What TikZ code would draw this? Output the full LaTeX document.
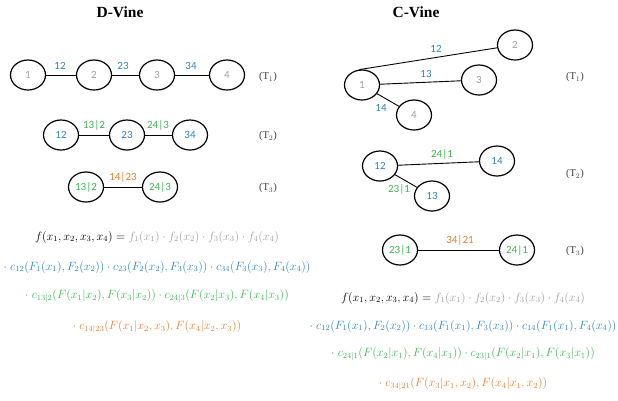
\documentclass[tikz,border=0pt]{standalone}
\usepackage{fontspec}
\setsansfont{Carlito}
\newfontfamily\serifT{Liberation Serif}
\usetikzlibrary{shapes.geometric}
\definecolor{vblue}{HTML}{2E86C8}
\definecolor{vgreen}{HTML}{3CB94F}
\definecolor{vorange}{HTML}{ED7D31}
\definecolor{vgray}{HTML}{A0A0A0}
\definecolor{tgray}{HTML}{404040}
\begin{document}
\begin{tikzpicture}[x=1pt,y=-1pt,
  vnode/.style={draw, ellipse, line width=1.2pt, minimum width=35pt, minimum height=30pt, inner sep=0pt, font=\sffamily\fontsize{11}{13}\selectfont},
  vedge/.style={line width=0.9pt},
  elabel/.style={font=\sffamily\fontsize{11}{13}\selectfont, inner sep=0pt},
  tlabel/.style={font=\serifT\fontsize{10.5}{12}\selectfont, text=tgray, inner sep=0pt},
  vtitle/.style={font=\serifT\bfseries\fontsize{15.5}{17}\selectfont, inner sep=0pt},
  formula/.style={inner sep=0pt, font=\fontsize{11.6}{13}\selectfont}]
\useasboundingbox (0,0) rectangle (618,400);

% ---------------- D-Vine ----------------
\node[vtitle] (dtitle) at (120,12) {D-Vine};
% T1
\node[vnode, text=vgray] (d1) at (28,75) {1};
\node[vnode, text=vgray] (d2) at (94,75) {2};
\node[vnode, text=vgray] (d3) at (157,75) {3};
\node[vnode, text=vgray] (d4) at (227,75) {4};
\draw[vedge] (d1) -- (d2);
\draw[vedge] (d2) -- (d3);
\draw[vedge] (d3) -- (d4);
\node[elabel, text=vblue] (dl12) at (60,66) {12};
\node[elabel, text=vblue] (dl23) at (123,66) {23};
\node[elabel, text=vblue] (dl34) at (191,66) {34};
\node[tlabel] (dt1) at (268,77) {(T$_1$)};
% T2
\node[vnode, text=vblue] (d12) at (61,135) {12};
\node[vnode, text=vblue] (d23) at (127,135) {23};
\node[vnode, text=vblue] (d34) at (190,135) {34};
\draw[vedge] (d12) -- (d23);
\draw[vedge] (d23) -- (d34);
\node[elabel, text=vgreen] (dl132) at (94,125) {13|2};
\node[elabel, text=vgreen] (dl243) at (158,125) {24|3};
\node[tlabel] (dt2) at (268,136) {(T$_2$)};
% T3
\node[vnode, text=vgreen] (d132) at (86,187) {13|2};
\node[vnode, text=vgreen] (d243) at (160,187) {24|3};
\draw[vedge] (d132) -- (d243);
\node[elabel, text=vorange] (dl1423) at (123,177) {14|23};
\node[tlabel] (dt3) at (268,188) {(T$_3$)};
% formulas
\node[formula] (df1) at (157,237) {$f(x_1,x_2,x_3,x_4)={\color{vgray}f_1(x_1)\cdot f_2(x_2)\cdot f_3(x_3)\cdot f_4(x_4)}$};
\node[formula, text=vblue] (df2) at (157,267) {$\cdot\; c_{12}(F_1(x_1),F_2(x_2))\cdot c_{23}(F_2(x_2),F_3(x_3))\cdot c_{34}(F_3(x_3),F_4(x_4))$};
\node[formula, text=vgreen] (df3) at (157,296) {$\cdot\; c_{13|2}\bigl(F(x_1|x_2),F(x_3|x_2)\bigr)\cdot c_{24|3}\bigl(F(x_2|x_3),F(x_4|x_3)\bigr)$};
\node[formula, text=vorange] (df4) at (157,327) {$\cdot\; c_{14|23}\bigl(F(x_1|x_2,x_3),F(x_4|x_2,x_3)\bigr)$};

% ---------------- C-Vine ----------------
\node[vtitle] (ctitle) at (416,12) {C-Vine};
% T1
\node[vnode, text=vgray] (c1) at (362,85) {1};
\node[vnode, text=vgray] (c2) at (515,45) {2};
\node[vnode, text=vgray] (c3) at (479,80) {3};
\node[vnode, text=vgray] (c4) at (414,115) {4};
\draw[vedge] (c1.100) -- (c2);
\draw[vedge] (c1) -- (c3);
\draw[vedge] (c1) -- (c4);
\node[elabel, text=vblue] (cl12) at (436,49) {12};
\node[elabel, text=vblue] (cl13) at (426,74) {13};
\node[elabel, text=vblue] (cl14) at (381,108) {14};
\node[tlabel] (ct1) at (575,77) {(T$_1$)};
% T2
\node[vnode, text=vblue] (c12) at (380,166) {12};
\node[vnode, text=vblue] (c14) at (497,161) {14};
\node[vnode, text=vblue] (c13) at (432,196) {13};
\draw[vedge] (c12) -- (c14);
\draw[vedge] (c12) -- (c13);
\node[elabel, text=vgreen] (cl241) at (442,154) {24|1};
\node[elabel, text=vgreen] (cl231) at (399,189) {23|1};
\node[tlabel] (ct2) at (575,174) {(T$_2$)};
% T3
\node[vnode, text=vgreen] (c231) at (400,250) {23|1};
\node[vnode, text=vgreen] (c241) at (517,250) {24|1};
\draw[vedge] (c231) -- (c241);
\node[elabel, text=vorange] (cl3421) at (460,240) {34|21};
\node[tlabel] (ct3) at (575,251) {(T$_3$)};
% formulas
\node[formula] (cf1) at (463,298) {$f(x_1,x_2,x_3,x_4)={\color{vgray}f_1(x_1)\cdot f_2(x_2)\cdot f_3(x_3)\cdot f_4(x_4)}$};
\node[formula, text=vblue] (cf2) at (463,326) {$\cdot\; c_{12}(F_1(x_1),F_2(x_2))\cdot c_{13}(F_1(x_1),F_3(x_3))\cdot c_{14}(F_1(x_1),F_4(x_4))$};
\node[formula, text=vgreen] (cf3) at (463,354) {$\cdot\; c_{24|1}\bigl(F(x_2|x_1),F(x_4|x_1)\bigr)\cdot c_{23|1}\bigl(F(x_2|x_1),F(x_3|x_1)\bigr)$};
\node[formula, text=vorange] (cf4) at (463,384) {$\cdot\; c_{34|21}\bigl(F(x_3|x_1,x_2),F(x_4|x_1,x_2)\bigr)$};
\end{tikzpicture}
\end{document}
